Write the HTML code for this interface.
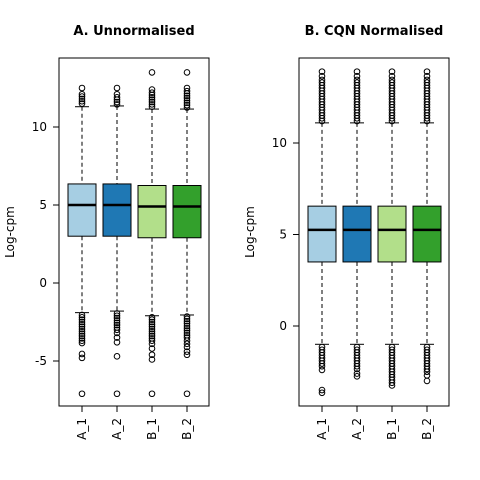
<!DOCTYPE html>
<html><head><meta charset="utf-8"><style>
body{margin:0;background:#fff}
svg{display:block;font-family:"DejaVu Sans","Liberation Sans",sans-serif}
</style></head><body>
<svg id="c" width="480" height="480" viewBox="0 0 480 480"></svg>
<script>
const categories = ["A_1","A_2","B_1","B_2"];
const colors = ["#A6CEE3","#1F78B4","#B2DF8A","#33A02C"];
// Panel A stats: [lowWhisker, q1, median, q3, highWhisker]
const statsA = [[-1.9,3.0,5.0,6.35,11.3],[-1.8,3.0,5.0,6.35,11.35],[-2.1,2.9,4.9,6.25,11.15],[-2.05,2.9,4.9,6.25,11.15]];
const outHiA = [[11.5,11.65,11.8,11.95,12.1,12.5],[11.45,11.6,11.75,11.9,12.1,12.5],[11.3,11.45,11.6,11.75,11.9,12.05,12.2,12.4,13.5],[11.25,11.4,11.55,11.7,11.85,12.0,12.15,12.3,12.5,13.5]];
const outLoA = [[-2.05,-2.2,-2.35,-2.5,-2.65,-2.8,-2.95,-3.1,-3.25,-3.4,-3.55,-3.7,-3.85,-4.55,-4.8,-7.1],[-1.95,-2.1,-2.25,-2.4,-2.55,-2.7,-2.85,-3.0,-3.2,-3.5,-3.8,-4.7,-7.1],[-2.2,-2.35,-2.5,-2.65,-2.8,-2.95,-3.1,-3.25,-3.4,-3.55,-3.7,-3.9,-4.2,-4.6,-4.9,-7.1],[-2.15,-2.3,-2.45,-2.6,-2.75,-2.9,-3.05,-3.2,-3.35,-3.5,-3.7,-3.9,-4.1,-4.4,-4.6,-7.1]];
const ticksA = [-5,0,5,10];
// Panel B stats
const statsB = [[-1.0,3.5,5.25,6.55,11.1],[-1.0,3.5,5.25,6.55,11.1],[-1.0,3.5,5.25,6.55,11.1],[-1.0,3.5,5.25,6.55,11.1]];
const outHiB = [[11.2,11.35,11.5,11.65,11.8,11.95,12.1,12.25,12.4,12.55,12.7,12.85,13.0,13.15,13.3,13.45,13.65,13.9],[11.2,11.35,11.5,11.65,11.8,11.95,12.1,12.25,12.4,12.55,12.7,12.85,13.0,13.15,13.3,13.45,13.65,13.9],[11.2,11.35,11.5,11.65,11.8,11.95,12.1,12.25,12.4,12.55,12.7,12.85,13.0,13.15,13.3,13.45,13.65,13.9],[11.2,11.35,11.5,11.65,11.8,11.95,12.1,12.25,12.4,12.55,12.7,12.85,13.0,13.15,13.3,13.45,13.65,13.9]];
const outLoB = [[-1.15,-1.3,-1.45,-1.6,-1.75,-1.9,-2.05,-2.2,-2.4,-3.5,-3.65],[-1.15,-1.3,-1.45,-1.6,-1.75,-1.9,-2.05,-2.2,-2.35,-2.6,-2.75],[-1.15,-1.3,-1.45,-1.6,-1.75,-1.9,-2.05,-2.2,-2.35,-2.5,-2.65,-2.8,-2.95,-3.1,-3.25],[-1.15,-1.3,-1.45,-1.6,-1.75,-1.9,-2.05,-2.2,-2.35,-2.5,-2.7,-3.0]];
const ticksB = [0,5,10];

const NS="http://www.w3.org/2000/svg";
const svg=document.getElementById('c');
function mk(t,a,p){const e=document.createElementNS(NS,t);for(const k in a)e.setAttribute(k,a[k]);(p||svg).appendChild(e);return e;}

function panel(cfg){
  const g=mk('g',{});
  
  
  const y=v=>cfg.y0+(v-cfg.v0)*(cfg.y1-cfg.y0)/(cfg.v1-cfg.v0);
  const x=i=>cfg.left+23+i*35;
  const t=mk('text',{x:(cfg.left+cfg.right)/2,y:35,'text-anchor':'middle','font-size':13,'font-weight':'bold'},g);
  t.textContent=cfg.title;
  
  
  const fr=mk('rect',{x:cfg.left,y:58,width:cfg.right-cfg.left,height:348,fill:'none',stroke:'#000','stroke-width':1},g);
  
  
  const ya=mk('g',{},g);
  
  
  mk('line',{x1:cfg.left,x2:cfg.left,y1:y(cfg.ticks[0]),y2:y(cfg.ticks[cfg.ticks.length-1]),stroke:'#000'},ya);
  cfg.ticks.forEach(v=>{
    mk('line',{x1:cfg.left-6,x2:cfg.left,y1:y(v),y2:y(v),stroke:'#000'},ya);
    const tl=mk('text',{x:cfg.left-12,y:y(v)+4,'text-anchor':'end','font-size':12},ya);
    tl.textContent=v;
    
    
  });
  const yl=mk('text',{x:0,y:0,'text-anchor':'middle','font-size':12,transform:`translate(${cfg.left-45},232) rotate(-90)`},g);
  yl.textContent='Log-cpm';
  
  
  categories.forEach((c,i)=>{
    const s=cfg.stats[i],cx=x(i),bw=14;
    const b=mk('g',{},g);
    
    
    mk('line',{x1:cx,x2:cx,y1:y(s[4]),y2:y(s[3]),stroke:'#000','stroke-dasharray':'4,3'},b);
    mk('line',{x1:cx,x2:cx,y1:y(s[1]),y2:y(s[0]),stroke:'#000','stroke-dasharray':'4,3'},b);
    mk('line',{x1:cx-7,x2:cx+7,y1:y(s[4]),y2:y(s[4]),stroke:'#000'},b);
    mk('line',{x1:cx-7,x2:cx+7,y1:y(s[0]),y2:y(s[0]),stroke:'#000'},b);
    mk('rect',{x:cx-bw,y:y(s[3]),width:bw*2,height:y(s[1])-y(s[3]),fill:colors[i],stroke:'#000'},b);
    mk('line',{x1:cx-bw,x2:cx+bw,y1:y(s[2]),y2:y(s[2]),stroke:'#000','stroke-width':2.5},b);
    cfg.hi[i].concat(cfg.lo[i]).forEach(v=>mk('circle',{cx:cx,cy:y(v),r:2.8,fill:'none',stroke:'#000','stroke-width':1},b));
    mk('line',{x1:cx,x2:cx,y1:406,y2:412,stroke:'#000'},g);
    const xl=mk('text',{x:0,y:0,'text-anchor':'end','font-size':12,transform:`translate(${cx+4},418) rotate(-90)`},g);
    xl.textContent=c;
    
    
  });
  mk('line',{x1:x(0),x2:x(3),y1:406,y2:406,stroke:'#000'},g);
}
panel({name:'panel-a-unnormalised',title:'A. Unnormalised',left:59,right:209,v0:0,y0:283,v1:10,y1:127,stats:statsA,hi:outHiA,lo:outLoA,ticks:ticksA});
panel({name:'panel-b-cqn-normalised',title:'B. CQN Normalised',left:299,right:449,v0:0,y0:326,v1:10,y1:143,stats:statsB,hi:outHiB,lo:outLoB,ticks:ticksB});
</script>
</body></html>
